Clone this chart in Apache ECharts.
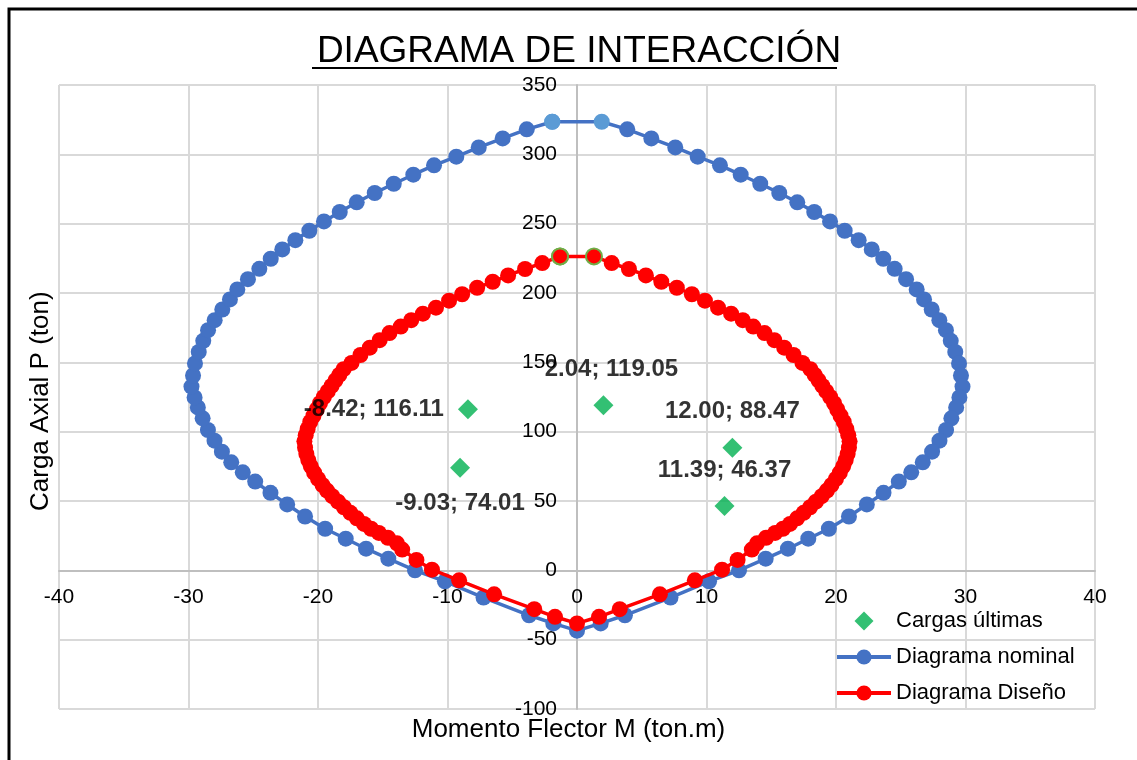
<!DOCTYPE html>
<html>
<head>
<meta charset="utf-8">
<script src="https://cdn.jsdelivr.net/npm/echarts@6/dist/echarts.min.js"></script>
<style>
html,body{margin:0;padding:0;background:#fff;}
#c{width:1137px;height:760px;}
</style>
</head>
<body>
<div id="c"></div>
<script>
// ---------- DATA ----------
var titleText = 'DIAGRAMA DE INTERACCIÓN';
var xAxisName = 'Momento Flector M (ton.m)';
var yAxisName = 'Carga Axial P (ton)';
var seriesNames = ['Cargas últimas', 'Diagrama nominal', 'Diagrama Diseño'];

// Diagrama nominal (closed loop: top -> right side -> bottom -> left side -> top)
var nominalM = [-1.91,
  1.91,3.88,5.74,7.59,9.32,11.04,12.64,14.15,15.62,17.01,18.32,19.54,20.67,21.75,22.76,23.65,24.53,25.41,26.23,26.80,
  27.39,27.98,28.49,28.86,29.21,29.50,29.65,29.77,29.53,29.28,28.91,28.50,27.99,27.42,26.70,25.81,24.85,23.67,22.38,21.00,
  19.45,17.86,16.29,14.57,12.51,10.20,7.22,3.70,1.83,0,
  -1.83,-3.70,-7.22,-10.20,-12.51,-14.57,-16.29,-17.86,-19.45,-21.00,-22.38,-23.67,-24.85,-25.81,-26.70,-27.42,-27.99,-28.50,-28.91,-29.28,
  -29.53,-29.77,-29.65,-29.50,-29.21,-28.86,-28.49,-27.98,-27.39,-26.80,-26.23,-25.41,-24.53,-23.65,-22.76,-21.75,-20.67,-19.54,-18.32,-17.01,
  -15.62,-14.15,-12.64,-11.04,-9.32,-7.59,-5.74,-3.88,-1.91];
var nominalP = [323.5,
  323.5,318.0,311.5,305.0,298.3,292.1,285.3,278.8,272.1,265.4,258.4,251.6,244.9,238.1,231.4,224.7,217.4,210.0,202.6,195.4,
  188.1,180.4,173.2,165.5,157.5,149.2,140.5,132.5,124.7,117.5,109.6,101.2,93.5,85.6,77.9,70.7,64.0,55.9,47.5,38.8,
  30.0,22.8,15.6,8.4,0,-7.9,-19.6,-32.4,-38.3,-43.5,
  -38.3,-32.4,-19.6,-7.9,0,8.4,15.6,22.8,30.0,38.8,47.5,55.9,64.0,70.7,77.9,85.6,93.5,101.2,109.6,117.5,
  124.7,132.5,140.5,149.2,157.5,165.5,173.2,180.4,188.1,195.4,202.6,210.0,217.4,224.7,231.4,238.1,244.9,251.6,258.4,265.4,
  272.1,278.8,285.3,292.1,298.3,305.0,311.5,318.0,323.5];

// Diagrama Diseño (closed loop)
var designM = [-1.31,
  1.31,2.68,4.01,5.32,6.51,7.71,8.87,9.88,10.89,11.90,12.80,13.61,14.48,15.24,16.00,16.72,17.41,18.02,
  18.35,18.65,18.95,19.25,19.55,19.85,20.10,20.35,20.60,20.80,20.95,21.05,21.00,20.90,20.75,20.55,20.30,20.00,19.65,19.30,
  18.90,18.45,18.00,17.50,17.00,16.45,15.90,15.30,14.60,13.90,13.50,12.40,11.20,9.10,6.40,3.30,1.70,0,
  -1.70,-3.30,-6.40,-9.10,-11.20,-12.40,-13.50,-13.90,-14.60,-15.30,-15.90,-16.45,-17.00,-17.50,-18.00,-18.45,-18.90,
  -19.30,-19.65,-20.00,-20.30,-20.55,-20.75,-20.90,-21.00,-21.05,-20.95,-20.80,-20.60,-20.35,-20.10,-19.85,-19.55,-19.25,-18.95,-18.65,-18.35,
  -18.02,-17.41,-16.72,-16.00,-15.24,-14.48,-13.61,-12.80,-11.90,-10.89,-9.88,-8.87,-7.71,-6.51,-5.32,-4.01,-2.68,-1.31];
var designP = [226.4,
  226.4,221.6,217.3,212.7,208.1,203.8,199.1,194.5,189.4,185.1,180.4,175.8,171.1,166.0,160.6,155.3,149.6,145.1,
  141.0,137.0,133.0,129.0,125.0,120.5,116.0,111.5,107.0,102.0,97.5,93.0,88.5,84.0,79.5,75.0,70.5,66.0,61.5,57.5,
  53.5,49.5,45.5,41.5,37.5,33.5,30.0,27.0,23.5,19.5,15.0,7.5,0.5,-7.2,-17.3,-28.0,-33.5,-38.3,
  -33.5,-28.0,-17.3,-7.2,0.5,7.5,15.0,19.5,23.5,27.0,30.0,33.5,37.5,41.5,45.5,49.5,53.5,
  57.5,61.5,66.0,70.5,75.0,79.5,84.0,88.5,93.0,97.5,102.0,107.0,111.5,116.0,120.5,125.0,129.0,133.0,137.0,141.0,
  145.1,149.6,155.3,160.6,166.0,171.1,175.8,180.4,185.1,189.4,194.5,199.1,203.8,208.1,212.7,217.3,221.6,226.4];

// Cargas últimas
var loadM = [-8.42, 2.04, -9.03, 12.00, 11.39];
var loadP = [116.11, 119.05, 74.01, 88.47, 46.37];
var loadLabelPos = ['left', 'top', 'bottom', 'top', 'top'];
var loadLabelOffset = [[0, 0], [8, 0], [0, 0], [0, 0], [0, 0]];

// Axis ticks
var xMin = -40, xMax = 40, xStep = 10;
var yMin = -100, yMax = 350, yStep = 50;

// ---------- BUILD ----------
var FONT = 'Liberation Sans, Arial, sans-serif';
var G = { left: 59, right: 42, top: 85, bottom: 51 };
var W = 1137, H = 760;
var plotW = W - G.left - G.right, plotH = H - G.top - G.bottom;
// axis crossing at zero: offsets so the axis line and labels sit on the zero lines
var yAxisOffset = -plotW * (0 - xMin) / (xMax - xMin);
var xAxisOffset = -plotH * (0 - yMin) / (yMax - yMin);

function pairs(a, b) { return a.map(function (v, i) { return [v, b[i]]; }); }

var nomData = pairs(nominalM, nominalP).map(function (p, i, arr) {
  var o = { value: p };
  if (i === 0 || i === 1 || i === arr.length - 1) o.itemStyle = { color: '#5B9BD5' };
  return o;
});
var desData = pairs(designM, designP).map(function (p, i, arr) {
  var o = { value: p };
  if (i === 0 || i === 1 || i === arr.length - 1) o.itemStyle = { color: '#FF0000', borderColor: '#70AD47', borderWidth: 2 };
  return o;
});
var loadData = pairs(loadM, loadP).map(function (p, i) {
  return { value: p, label: { position: loadLabelPos[i], offset: loadLabelOffset[i] } };
});

var chart = echarts.init(document.getElementById('c'), null, { renderer: 'canvas' });
chart.setOption({
  backgroundColor: '#ffffff',
  animation: false,
  title: {
    text: titleText,
    left: 574, top: 28, textAlign: 'center',
    textStyle: { fontFamily: FONT, fontSize: 37, fontWeight: 'normal', color: '#000' }
  },
  grid: { left: G.left, right: G.right, top: G.top, bottom: G.bottom, containLabel: false, outerBoundsMode: 'none' },
  legend: {
    orient: 'vertical', left: 835, top: 610, padding: 0,
    itemWidth: 54, itemHeight: 19, itemGap: 14,
    symbolKeepAspect: true,
    lineStyle: { width: 4 },
    data: [
      { name: seriesNames[0], icon: 'path://M0,-1L1,0L0,1L-1,0Z' },
      { name: seriesNames[1] },
      { name: seriesNames[2] }
    ],
    textStyle: { fontFamily: FONT, fontSize: 22, color: '#000' }
  },
  xAxis: {
    type: 'value', min: xMin, max: xMax, interval: xStep,
    position: 'bottom', offset: xAxisOffset,
    axisLine: { onZero: false, lineStyle: { color: '#bfbfbf', width: 2 } },
    axisTick: { show: false },
    axisLabel: { fontFamily: FONT, fontSize: 21, color: '#000', margin: 16, showMinLabel: true, showMaxLabel: true },
    splitLine: { lineStyle: { color: '#d9d9d9', width: 2 } }
  },
  yAxis: {
    type: 'value', min: yMin, max: yMax, interval: yStep,
    position: 'left', offset: yAxisOffset,
    axisLine: { onZero: false, lineStyle: { color: '#bfbfbf', width: 2 } },
    axisTick: { show: false },
    axisLabel: { fontFamily: FONT, fontSize: 21, color: '#000', margin: 20, showMinLabel: true, showMaxLabel: true },
    splitLine: { lineStyle: { color: '#d9d9d9', width: 2 } }
  },
  graphic: [
    { type: 'rect', shape: { x: 9, y: 9, width: 1140, height: 770 }, style: { fill: 'none', stroke: '#000', lineWidth: 3 }, z: 100, silent: true },
    { type: 'line', shape: { x1: 312, y1: 68, x2: 837, y2: 68 }, style: { stroke: '#000', lineWidth: 2 }, z: 100 },
    { type: 'text', left: 'center', top: 717, style: { text: xAxisName, font: '26px Liberation Sans', fill: '#000' } },
    { type: 'text', rotation: Math.PI / 2, x: 28, y: 511, style: { text: yAxisName, font: '26px Liberation Sans', fill: '#000' } }
  ],
  series: [
    {
      name: seriesNames[1], type: 'line', data: nomData, z: 2,
      symbol: 'circle', symbolSize: 16,
      lineStyle: { color: '#4472C4', width: 3.5 },
      itemStyle: { color: '#4472C4' }
    },
    {
      name: seriesNames[2], type: 'line', data: desData, z: 3,
      symbol: 'circle', symbolSize: 16,
      lineStyle: { color: '#FF0000', width: 3.5 },
      itemStyle: { color: '#FF0000' }
    },
    {
      name: seriesNames[0], type: 'scatter', data: loadData, z: 4,
      symbol: 'diamond', symbolSize: 20,
      itemStyle: { color: '#00B050' },
      label: {
        show: true, distance: 14,
        fontFamily: FONT, fontSize: 24, fontWeight: 'bold', color: '#000',
        formatter: function (p) { return p.value[0].toFixed(2) + '; ' + p.value[1].toFixed(2); }
      }
    }
  ]
});
</script>
</body>
</html>
